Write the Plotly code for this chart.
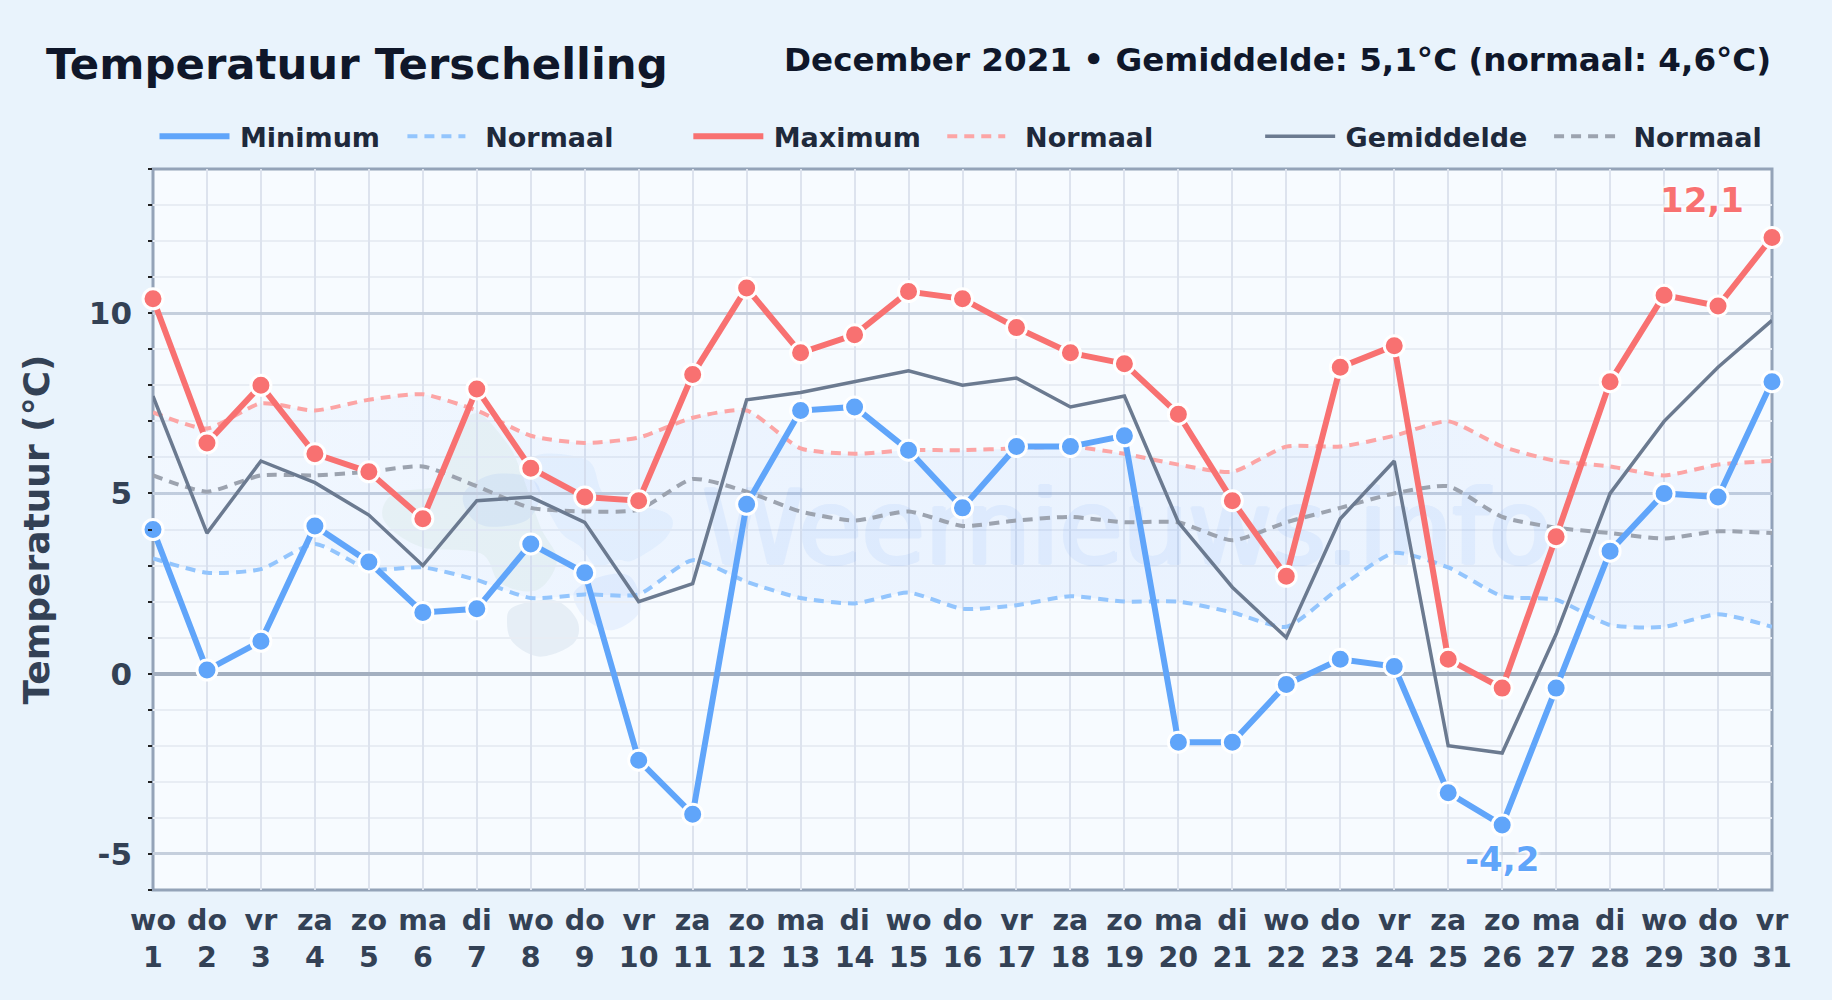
import plotly.graph_objects as go

FONT = "DejaVu Sans"
days = list(range(1, 32))
weekdays = ["wo","do","vr","za","zo","ma","di","wo","do","vr","za","zo","ma","di","wo","do",
            "vr","za","zo","ma","di","wo","do","vr","za","zo","ma","di","wo","do","vr"]
t_max = [10.4,6.4,8.0,6.1,5.6,4.3,7.9,5.7,4.9,4.8,8.3,10.7,8.9,9.4,10.6,10.4,9.6,8.9,8.6,7.2,4.8,2.7,8.5,9.1,0.4,-0.4,3.8,8.1,10.5,10.2,12.1]
t_min = [4.0,0.1,0.9,4.1,3.1,1.7,1.8,3.6,2.8,-2.4,-3.9,4.7,7.3,7.4,6.2,4.6,6.3,6.3,6.6,-1.9,-1.9,-0.3,0.4,0.2,-3.3,-4.2,-0.4,3.4,5.0,4.9,8.1]
t_avg = [7.7,3.9,5.9,5.3,4.4,3.0,4.8,4.9,4.2,2.0,2.5,7.6,7.8,8.1,8.4,8.0,8.2,7.4,7.7,4.2,2.4,1.0,4.3,5.9,-2.0,-2.2,1.1,5.0,7.0,8.5,9.8]
n_max = [7.25,6.8,7.5,7.3,7.6,7.75,7.3,6.6,6.4,6.55,7.1,7.3,6.25,6.1,6.2,6.2,6.25,6.3,6.1,5.8,5.6,6.3,6.3,6.6,7.0,6.3,5.9,5.75,5.5,5.8,5.9]
n_avg = [5.5,5.05,5.5,5.5,5.6,5.75,5.2,4.6,4.5,4.55,5.4,5.05,4.5,4.25,4.5,4.1,4.25,4.35,4.2,4.2,3.7,4.2,4.6,5.0,5.2,4.35,4.05,3.9,3.75,3.95,3.9]
n_min = [3.2,2.8,2.9,3.6,2.9,2.95,2.6,2.1,2.2,2.2,3.15,2.55,2.1,1.95,2.25,1.8,1.9,2.15,2.0,2.0,1.7,1.3,2.4,3.35,2.95,2.15,2.05,1.35,1.3,1.65,1.3]
tick_text = [f"{w}<br>{d}" for w, d in zip(weekdays, days)]

BLUE, RED, GREY = "#60a5fa", "#f87171", "#6b7a90"
W, H = 1832, 1000
L, R, T, B = 152.5, 60, 169, 110
PW, PH = W - L - R, H - T - B
def px(x): return (x - L) / PW
def py(y): return 1 - (y - T) / PH

def blob(points, color):
    """closed smooth decoration outline (page pixels -> paper coordinates)"""
    n = len(points)
    d = f"M{px(points[0][0]):.5f},{py(points[0][1]):.5f}"
    for i in range(n):
        p0, p1, p2, p3 = points[i-1], points[i], points[(i+1) % n], points[(i+2) % n]
        c1 = (p1[0] + (p2[0]-p0[0])/6, p1[1] + (p2[1]-p0[1])/6)
        c2 = (p2[0] - (p3[0]-p1[0])/6, p2[1] - (p3[1]-p1[1])/6)
        d += f" C{px(c1[0]):.5f},{py(c1[1]):.5f} {px(c2[0]):.5f},{py(c2[1]):.5f} {px(p2[0]):.5f},{py(p2[1]):.5f}"
    return dict(type="path", path=d + " Z", xref="paper", yref="paper", fillcolor=color,
                line=dict(width=0), layer="below")

def crop(pts):  # outline points noted from the watermark crop
    return [(340 + a/3, 380 + b/3) for a, b in pts]

shapes = [
    blob(crop([(410,100),(500,190),(540,270),(600,440),(650,540),(590,630),(480,610),(420,520),(240,500),(130,420),(160,340),(300,310),(340,170)]), "rgba(130,180,130,0.08)"),
    blob(crop([(570,240),(740,240),(800,350),(980,400),(980,470),(880,540),(830,540),(770,560),(720,500),(650,440)]), "rgba(59,130,246,0.06)"),
    blob(crop([(370,340),(450,285),(560,290),(600,340),(560,420),(450,440),(390,410)]), "rgba(59,130,246,0.08)"),
    blob(crop([(520,680),(640,660),(710,720),(700,790),(600,830),(520,790),(500,730)]), "rgba(90,125,170,0.10)"),
    blob(crop([(700,640),(780,590),(870,590),(900,690),(820,750),(740,720)]), "rgba(59,130,246,0.08)"),
    dict(type="rect", xref="paper", yref="paper", x0=0, x1=1, y0=0, y1=1,
         line=dict(color="#94a3b8", width=3), fillcolor="rgba(0,0,0,0)", layer="below"),
]

fig = go.Figure()
# normal band
fig.add_trace(go.Scatter(x=days, y=n_min, mode="lines", line=dict(width=0, shape="spline", smoothing=0.6),
                         showlegend=False, hoverinfo="skip"))
fig.add_trace(go.Scatter(x=days, y=n_max, mode="lines", line=dict(width=0, shape="spline", smoothing=0.6),
                         fill="tonexty",
                         fillgradient=dict(type="horizontal", colorscale=[
                             [0, "rgba(59,130,246,0.03)"], [0.3, "rgba(59,130,246,0.055)"],
                             [0.6, "rgba(59,130,246,0.07)"], [1, "rgba(59,130,246,0.05)"]]),
                         showlegend=False, hoverinfo="skip"))
# watermark
WM = "#3b82f6"
wm_shadow = ", ".join(f"{a}px {b}px 0 {WM}" for a, b in [(2,0),(-2,0),(0,1),(0,-1),(1,1),(-1,-1)])
fig.add_trace(go.Scatter(x=[19.05], y=[3.77], mode="text", text=["Weernieuws.info"], opacity=0.07,
                         textfont=dict(family=FONT, size=103, color=WM, shadow=wm_shadow),
                         showlegend=False, hoverinfo="skip"))

def dashed(y, color, name, legend):
    fig.add_trace(go.Scatter(x=days, y=y, name=name, mode="lines", legend=legend, cliponaxis=False,
                             line=dict(color=color, width=4, dash="10px,7px", shape="spline", smoothing=0.6)))
def solid(y, color, width, name, legend):
    fig.add_trace(go.Scatter(x=days, y=y, name=name, mode="lines", legend=legend, cliponaxis=False,
                             line=dict(color=color, width=width)))
def dots(y, color):
    fig.add_trace(go.Scatter(x=days, y=y, mode="markers", showlegend=False, cliponaxis=False,
                             marker=dict(color=color, size=20, line=dict(color="white", width=3))))

dashed(n_min, "#93c5fd", "\u00a0\u2009Normaal", "legend2")
dashed(n_max, "#fca5a5", "\u00a0\u2009Normaal", "legend4")
dashed(n_avg, "#9ca3af", "\u00a0Normaal", "legend6")
solid(t_avg, GREY, 3.5, "\u2009Gemiddelde", "legend5")
solid(t_max, RED, 6, "\u2009Maximum", "legend3")
dots(t_max, RED)
solid(t_min, BLUE, 6, "\u2009Minimum", "legend")
dots(t_min, BLUE)

def leg(x, iw):
    return dict(x=px(x), y=py(136.8), xanchor="left", yanchor="middle", orientation="h",
                bgcolor="rgba(0,0,0,0)", itemwidth=iw, tracegroupgap=0,
                font=dict(family=FONT, size=27, color="#1e293b", weight="bold"))

HALO = "0 0 5px #fff, 0 0 5px #fff, 0 0 5px #fff, 0 0 3px #fff"
fig.update_layout(
    width=W, height=H, autosize=False,
    margin=dict(l=L, r=R, t=T, b=B, pad=0),
    paper_bgcolor="#e9f3fc", plot_bgcolor="#f7fbff",
    font=dict(family=FONT),
    showlegend=True,
    title=dict(text="<b>Temperatuur Terschelling</b>", x=46/W, xanchor="left", xref="container",
               y=1-64/H, yanchor="middle", yref="container",
               font=dict(family=FONT, size=43.4, color="#0f172a")),
    legend=leg(154, 70), legend2=leg(402, 58), legend3=leg(688, 70),
    legend4=leg(942, 58), legend5=leg(1260, 70), legend6=leg(1549, 65),
    shapes=shapes,
    xaxis=dict(range=[1, 31], tickmode="array", tickvals=days, ticktext=tick_text,
               showgrid=True, gridcolor="#dde3ee", gridwidth=2, zeroline=False,
               showline=False, ticks="", ticklabelstandoff=10,
               tickangle=0, tickfont=dict(family=FONT, size=28.5, color="#334155", weight="bold")),
    yaxis=dict(range=[-6, 14], tickmode="array", tickvals=[-5, 0, 5, 10], ticktext=["-5", "0", "5", "10"],
               showgrid=True, gridcolor="#c5cfdd", gridwidth=2.5, zeroline=True, zerolinecolor="#a3afc0", zerolinewidth=3.5,
               showline=False, ticks="", ticklabelstandoff=20,
               minor=dict(dtick=1, tick0=0, showgrid=True, gridcolor="#e8edf4", gridwidth=2,
                          ticks="outside", ticklen=4, tickcolor="#222", tickwidth=1.5),
               tickfont=dict(family=FONT, size=31, color="#334155", weight="bold"),
               title=dict(text="<b>Temperatuur (°C)</b>", standoff=28,
                          font=dict(family=FONT, size=36, color="#334155"))),
    annotations=[
        dict(text="<b>December 2021 • Gemiddelde: 5,1°C (normaal: 4,6°C)</b>", xref="paper", yref="paper",
             x=px(1773.5), y=py(60), xanchor="right", yanchor="middle", showarrow=False,
             font=dict(family=FONT, size=32.6, color="#0f172a")),
        dict(text="<b>12,1</b>", xref="x", yref="y", x=31, y=t_max[30], xanchor="center", yanchor="middle",
             xshift=-70, yshift=38, showarrow=False,
             font=dict(family=FONT, size=34, color=RED, shadow=HALO)),
        dict(text="<b>-4,2</b>", xref="x", yref="y", x=26, y=t_min[25], xanchor="center", yanchor="middle",
             yshift=-34, showarrow=False,
             font=dict(family=FONT, size=34, color=BLUE, shadow=HALO)),
    ],
)
fig.write_html("out.html", post_script="document.body.style.margin='0';document.body.style.background='#e9f3fc';",
               config={"displayModeBar": False})
